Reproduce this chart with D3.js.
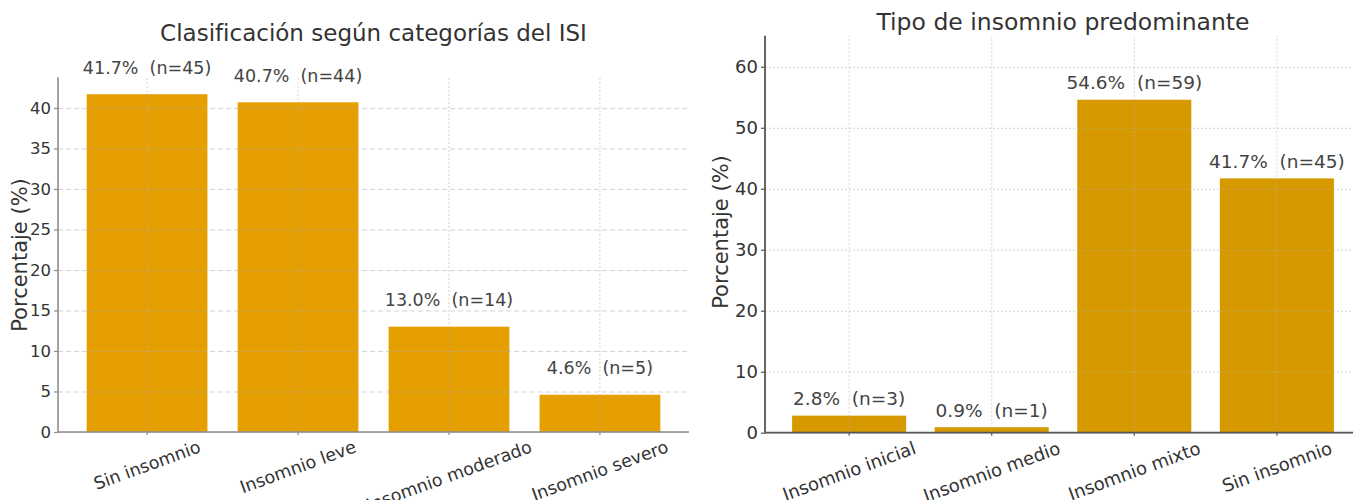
<!DOCTYPE html>
<html lang="es">
<head>
<meta charset="utf-8">
<script src="https://cdn.jsdelivr.net/npm/d3@7"></script>
<style>
  html, body { margin: 0; padding: 0; background: #fff; }
  svg { display: block; font-family: "DejaVu Sans", sans-serif; }
  text { white-space: pre; }
</style>
</head>
<body>
<svg id="chart" width="1353" height="500"></svg>
<script>
// ISI severity categories
const isiCategories = ["Sin insomnio", "Insomnio leve", "Insomnio moderado", "Insomnio severo"];
const isiPercent = [41.7, 40.7, 13.0, 4.6];
const isiCount = [45, 44, 14, 5];
const isiTicks = [0, 5, 10, 15, 20, 25, 30, 35, 40];

// Predominant insomnia type
const typeCategories = ["Insomnio inicial", "Insomnio medio", "Insomnio mixto", "Sin insomnio"];
const typePercent = [2.8, 0.9, 54.6, 41.7];
const typeCount = [3, 1, 59, 45];
const typeTicks = [0, 10, 20, 30, 40, 50, 60];

const svg = d3.select("#chart");

function drawPanel(cfg) {
  const g = svg.append("g");
  const data = cfg.categories.map((c, i) => ({ c, p: cfg.percent[i], n: cfg.count[i] }));

  const x = d3.scaleBand()
    .domain(cfg.categories)
    .range([cfg.left, cfg.right])
    .paddingInner(0.2)
    .paddingOuter(0.19);

  const y = d3.scaleLinear()
    .domain([0, cfg.yMax])
    .range([cfg.bottom, cfg.top]);

  // bars
  g.selectAll("rect.bar")
    .data(data)
    .join("rect")
    .attr("class", "bar")
    .attr("x", d => x(d.c))
    .attr("width", x.bandwidth())
    .attr("y", d => y(d.p))
    .attr("height", d => y(0) - y(d.p))
    .attr("fill", cfg.color);

  // horizontal grid
  g.append("g")
    .attr("transform", `translate(${cfg.left},0)`)
    .call(d3.axisLeft(y).tickValues(cfg.ticks).tickSize(-(cfg.right - cfg.left)).tickFormat(""))
    .call(a => a.select(".domain").remove())
    .call(a => a.selectAll("line")
      .attr("stroke", cfg.gridColor)
      .attr("stroke-opacity", cfg.gridOpacity)
      .attr("stroke-width", 1)
      .attr("stroke-dasharray", cfg.hDash));

  // vertical grid at category centres
  g.append("g")
    .attr("transform", `translate(0,${cfg.bottom})`)
    .call(d3.axisBottom(x).tickSize(-(cfg.bottom - cfg.top)).tickFormat(""))
    .call(a => a.select(".domain").remove())
    .call(a => a.selectAll("line")
      .attr("stroke", cfg.gridColor)
      .attr("stroke-opacity", cfg.gridOpacity)
      .attr("stroke-width", 1)
      .attr("stroke-dasharray", cfg.vDash));

  // y axis
  const yAxis = g.append("g")
    .attr("transform", `translate(${cfg.left},0)`)
    .call(d3.axisLeft(y).tickValues(cfg.ticks).tickSize(4).tickPadding(3).tickSizeOuter(0));
  yAxis.select(".domain").remove();
  yAxis.selectAll("line").attr("stroke", cfg.spineColor).attr("stroke-width", 1.2);
  yAxis.selectAll("text")
    .attr("fill", "#333")
    .attr("font-size", cfg.tickFont + "px")
    .attr("font-family", "DejaVu Sans");

  // x axis ticks
  const xAxis = g.append("g")
    .attr("transform", `translate(0,${cfg.bottom})`)
    .call(d3.axisBottom(x).tickSize(3).tickFormat(""));
  xAxis.select(".domain").remove();
  xAxis.selectAll("line").attr("stroke", cfg.spineColor).attr("stroke-width", 1.2);

  // spines
  g.append("line")
    .attr("x1", cfg.left).attr("x2", cfg.left)
    .attr("y1", cfg.top).attr("y2", cfg.bottom)
    .attr("stroke", cfg.spineColor).attr("stroke-width", cfg.spineWidth);
  g.append("line")
    .attr("x1", cfg.left).attr("x2", cfg.right)
    .attr("y1", cfg.bottom).attr("y2", cfg.bottom)
    .attr("stroke", cfg.spineColor).attr("stroke-width", cfg.spineWidth);

  // rotated category labels, box centred under each tick
  const ang = 20 * Math.PI / 180;
  g.selectAll("text.xlab")
    .data(data)
    .join("text")
    .attr("class", "xlab")
    .attr("font-size", cfg.xFont + "px")
    .attr("fill", "#333")
    .attr("text-anchor", "middle")
    .attr("dominant-baseline", "central")
    .text(d => d.c)
    .each(function (d) {
      const w = this.getComputedTextLength();
      const h = cfg.xFont * 1.1;
      const boxH = w * Math.sin(ang) + h * Math.cos(ang);
      const cx = x(d.c) + x.bandwidth() / 2;
      const cy = cfg.bottom + 5 + boxH / 2;
      d3.select(this).attr("transform", `translate(${cx},${cy}) rotate(-20)`);
    });

  // value labels above bars
  g.selectAll("text.val")
    .data(data)
    .join("text")
    .attr("class", "val")
    .attr("font-size", cfg.valFont + "px")
    .attr("fill", "#444")
    .attr("text-anchor", "middle")
    .attr("x", d => x(d.c) + x.bandwidth() / 2)
    .attr("y", d => y(d.p + cfg.labelOffset) - cfg.valFont * 0.236)
    .text(d => `${d.p.toFixed(1)}%  (n=${d.n})`);

  // y axis title
  g.append("text")
    .attr("font-size", cfg.yLabelFont + "px")
    .attr("fill", "#333")
    .attr("text-anchor", "middle")
    .attr("transform", `translate(${cfg.yLabelX},${cfg.yLabelY}) rotate(-90)`)
    .text("Porcentaje (%)");

  // panel title
  g.append("text")
    .attr("font-size", cfg.titleFont + "px")
    .attr("fill", "#333")
    .attr("text-anchor", "middle")
    .attr("x", (cfg.left + cfg.right) / 2)
    .attr("y", cfg.titleY)
    .text(cfg.title);
}

drawPanel({
  categories: isiCategories, percent: isiPercent, count: isiCount, ticks: isiTicks,
  title: "Clasificación según categorías del ISI",
  left: 58, right: 689, top: 77.3, bottom: 432, yMax: 43.785,
  color: "#E69F00", spineColor: "#8c8c8c", spineWidth: 1.6,
  gridColor: "#b0b0b0", gridOpacity: 0.55, hDash: "5,3", vDash: "2,2",
  tickFont: 16.5, xFont: 17.5, valFont: 17.5, yLabelFont: 21, titleFont: 23,
  labelOffset: 2, yLabelX: 27, yLabelY: 255, titleY: 41
});

drawPanel({
  categories: typeCategories, percent: typePercent, count: typeCount, ticks: typeTicks,
  title: "Tipo de insomnio predominante",
  left: 765, right: 1361, top: 35.7, bottom: 432.7, yMax: 65.1,
  color: "#D69A00", spineColor: "#555", spineWidth: 1.8,
  gridColor: "#b0b0b0", gridOpacity: 0.55, hDash: "2,2", vDash: "2,2",
  tickFont: 18, xFont: 18, valFont: 18.5, yLabelFont: 21, titleFont: 23.5,
  labelOffset: 1, yLabelX: 728, yLabelY: 232, titleY: 30
});
</script>
</body>
</html>
